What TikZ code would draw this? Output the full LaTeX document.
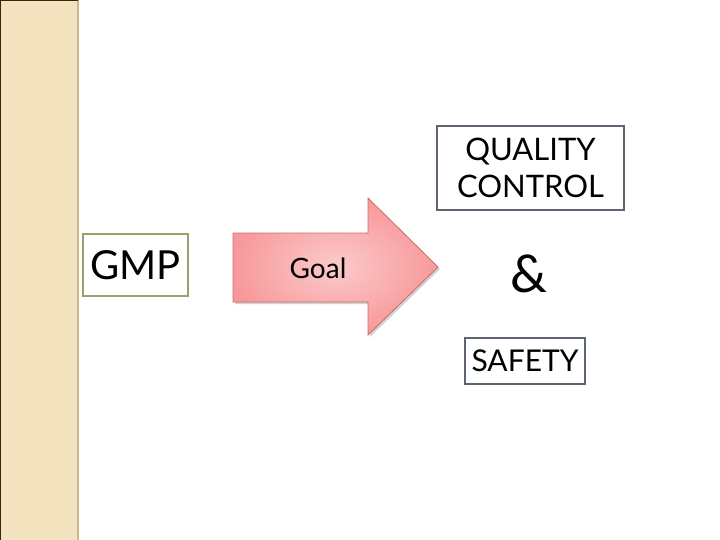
\documentclass[tikz,border=0pt]{standalone}
\usepackage{fontspec}
\setmainfont{Lato}
\usetikzlibrary{shadows}
\definecolor{band}{HTML}{F3E3BE}
\definecolor{bandedge}{HTML}{C9B98E}
\definecolor{gmpborder}{HTML}{9A9F6C}
\definecolor{qcborder}{HTML}{5C6672}
\definecolor{arrowfill}{HTML}{F7999B}
\definecolor{arrowlight}{HTML}{FCCACA}
\definecolor{arrowedge}{HTML}{C86C6C}
\begin{document}
\begin{tikzpicture}[x=1pt,y=-1pt,
  box/.style={draw, line width=1.5pt, fill=white, align=center, inner sep=0pt}]
\useasboundingbox (0,0) rectangle (720,540);
\fill[white] (0,0) rectangle (720,540);
% left band
\fill[band] (0,0) rectangle (78,540);
\draw[bandedge, line width=1.5pt] (78,0) -- (78,540);
\draw[black!70!brown, line width=1pt] (0.5,540) -- (0.5,0.5) -- (78,0.5);
% GMP
\node[box, draw=gmpborder, minimum width=105pt, minimum height=62pt, font=\fontsize{40}{46}\selectfont] (gmp) at (135.5,265) {GMP};
% arrow
\path[draw=arrowedge, line width=0.8pt, inner color=arrowlight, outer color=arrowfill,
  drop shadow={shadow xshift=2pt, shadow yshift=-2pt, opacity=0.35}]
  (233,233) -- (368,233) -- (368,198) -- (438,267) -- (368,335) -- (368,302) -- (233,302) -- cycle;
\node[font=\fontsize{28}{32}\selectfont] (goal) at (318,268) {Goal};
% QC
\node[box, draw=qcborder, minimum width=187pt, minimum height=84pt, font=\fontsize{31}{37}\selectfont] (qc) at (530.5,168) {QUALITY\\CONTROL};
% &
\node[font=\fontsize{52}{56}\selectfont] (amp) at (529,274) {\&};
% SAFETY
\node[box, draw=qcborder, minimum width=120pt, minimum height=46pt, font=\fontsize{30}{34}\selectfont] (safety) at (525,361) {SAFETY};
\end{tikzpicture}
\end{document}
